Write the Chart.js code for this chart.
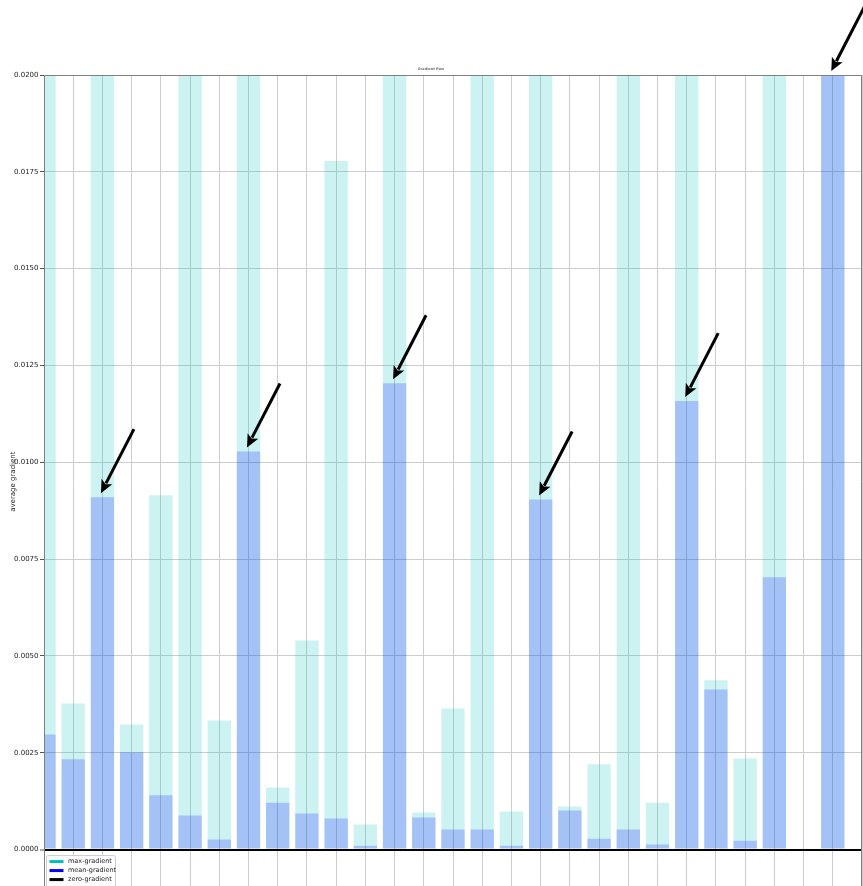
<!DOCTYPE html>
<html>
<head>
<meta charset="utf-8">
<script src="https://cdn.jsdelivr.net/npm/chart.js@4/dist/chart.umd.min.js"></script>
<style>
  html, body { margin: 0; padding: 0; overflow: hidden; background: #fff; }
  #wrap { width: 863px; height: 894px; position: relative; }
</style>
</head>
<body>
<div id="wrap"><canvas id="c" width="863" height="894"></canvas></div>
<script>
// Per-layer gradient statistics (layer index = position on the x axis)
const maxGrad = [0.0215, 0.00377, 0.0215, 0.00323, 0.00915, 0.0215, 0.00333, 0.0215,
                 0.00160, 0.00540, 0.01778, 0.00065, 0.0215, 0.00096, 0.00364, 0.0215,
                 0.00098, 0.0215, 0.00111, 0.00220, 0.0215, 0.00121, 0.0215, 0.00437,
                 0.00235, 0.0215, 0, 0.0215];
const meanGrad = [0.00297, 0.00233, 0.00910, 0.00251, 0.00140, 0.00088, 0.00026, 0.01028,
                  0.00121, 0.00093, 0.00080, 0.00010, 0.01204, 0.00083, 0.00052, 0.00052,
                  0.00010, 0.00904, 0.00101, 0.00028, 0.00052, 0.00013, 0.01158, 0.00413,
                  0.00023, 0.00703, 0, 0.0215];
const layers = meanGrad.map((_, i) => i);
const yTicks = [0, 0.0025, 0.005, 0.0075, 0.01, 0.0125, 0.015, 0.0175, 0.02];
const yMin = -0.001, yMax = 0.02;
// layers whose mean gradient is highlighted with an arrow
const arrowLayers = [2, 7, 12, 17, 22, 27];
const legendItems = [
  { text: 'max-gradient', color: '#00bfbf' },
  { text: 'mean-gradient', color: '#0000ff' },
  { text: 'zero-gradient', color: '#000000' }
];

const FONT = '"DejaVu Sans", sans-serif';
const GRID = '#cdcdcd';

function drawArrow(ctx, x0, y0, x1, y1) {
  const ang = Math.atan2(y1 - y0, x1 - x0);
  const headLen = 13, headW = 6;
  const c = Math.cos(ang), s = Math.sin(ang);
  const bx = x1 - headLen * c, by = y1 - headLen * s;
  ctx.save();
  ctx.strokeStyle = '#000';
  ctx.fillStyle = '#000';
  ctx.lineWidth = 3;
  ctx.beginPath();
  ctx.moveTo(x0, y0);
  ctx.lineTo(bx + 2 * c, by + 2 * s);
  ctx.stroke();
  ctx.beginPath();
  ctx.moveTo(x1, y1);
  ctx.lineTo(bx + headW * s, by - headW * c);
  ctx.lineTo(bx + 3 * c, by + 3 * s);
  ctx.lineTo(bx - headW * s, by + headW * c);
  ctx.closePath();
  ctx.fill();
  ctx.restore();
}

const overlay = {
  id: 'overlay',
  afterDraw(chart) {
    const { ctx, chartArea: a, scales: { x, y } } = chart;
    ctx.save();
    // axes frame
    ctx.strokeStyle = '#808080';
    ctx.lineWidth = 1;
    ctx.beginPath();
    ctx.moveTo(a.left + 0.5, a.bottom);
    ctx.lineTo(a.left + 0.5, a.top + 0.5);
    ctx.lineTo(a.right - 0.5, a.top + 0.5);
    ctx.lineTo(a.right - 0.5, a.bottom);
    ctx.stroke();

    // arrows pointing at the highlighted mean-gradient bars
    arrowLayers.forEach(i => {
      const v = Math.min(meanGrad[i], yMax);
      const tx = x.getPixelForValue(i) - 1.5;
      const ty = y.getPixelForValue(v) - 4;
      drawArrow(ctx, tx + 33, ty - 64, tx, ty);
    });

    // legend in the lower-left corner of the axes
    const lx = a.left + 2.5, ly = y.getPixelForValue(0) + 6;
    ctx.fillStyle = 'rgba(255,255,255,0.8)';
    ctx.strokeStyle = '#cccccc';
    ctx.lineWidth = 1;
    ctx.beginPath();
    ctx.roundRect(lx, ly, 69, 36, 2);
    ctx.fill();
    ctx.stroke();
    ctx.font = '6.5px ' + FONT;
    ctx.textBaseline = 'middle';
    legendItems.forEach((it, k) => {
      const ry = ly + 6 + k * 9;
      ctx.strokeStyle = it.color;
      ctx.lineWidth = 3;
      ctx.beginPath();
      ctx.moveTo(lx + 3, ry);
      ctx.lineTo(lx + 17, ry);
      ctx.stroke();
      ctx.fillStyle = '#222';
      ctx.fillText(it.text, lx + 21.5, ry);
    });
    ctx.restore();
  }
};

new Chart(document.getElementById('c'), {
  type: 'bar',
  data: {
    datasets: [
      {
        label: 'mean-gradient',
        data: layers.map(i => ({ x: i, y: meanGrad[i] })),
        backgroundColor: 'rgba(0,0,255,0.2)',
        borderWidth: 0,
        order: 1
      },
      {
        label: 'max-gradient',
        data: layers.map(i => ({ x: i, y: maxGrad[i] })),
        backgroundColor: 'rgba(0,191,191,0.2)',
        borderWidth: 0,
        order: 2
      }
    ]
  },
  options: {
    responsive: false,
    animation: false,
    devicePixelRatio: 1,
    grouped: false,
    categoryPercentage: 1.0,
    barPercentage: 0.8,
    layout: { padding: { left: 0, right: 1, top: 0, bottom: 2 } },
    plugins: {
      legend: { display: false },
      tooltip: { enabled: false },
      title: {
        display: true,
        text: 'Gradient flow',
        color: '#777',
        font: { family: FONT, size: 3.5, lineHeight: 1 },
        padding: { top: 67.5, bottom: 4 }
      }
    },
    scales: {
      x: {
        type: 'linear',
        min: 0,
        max: layers.length,
        offset: false,
        z: 1,
        grid: { offset: false, color: GRID, lineWidth: 1, drawTicks: false },
        border: { display: false },
        ticks: { display: false, stepSize: 1 },
        afterFit(scale) { scale.height = 0; }
      },
      y: {
        min: yMin,
        max: yMax,
        z: 1,
        afterBuildTicks(scale) { scale.ticks = yTicks.map(v => ({ value: v })); },
        afterFit(scale) { scale.width = 44; },
        grid: {
          color: ctx => (ctx.tick && ctx.tick.value === 0 ? '#000' : GRID),
          lineWidth: ctx => (ctx.tick && ctx.tick.value === 0 ? 2 : 1),
          tickColor: '#555',
          tickLength: 4,
          tickWidth: 1
        },
        border: { display: false },
        ticks: {
          color: '#222',
          padding: 1.5,
          font: { family: FONT, size: 7 },
          callback: v => Number(v).toFixed(4)
        },
        title: {
          display: true,
          text: 'average gradient',
          color: '#222',
          font: { family: FONT, size: 7, lineHeight: 1.2 },
          padding: { top: 9, bottom: 0 }
        }
      }
    }
  },
  plugins: [overlay]
});
</script>
</body>
</html>
